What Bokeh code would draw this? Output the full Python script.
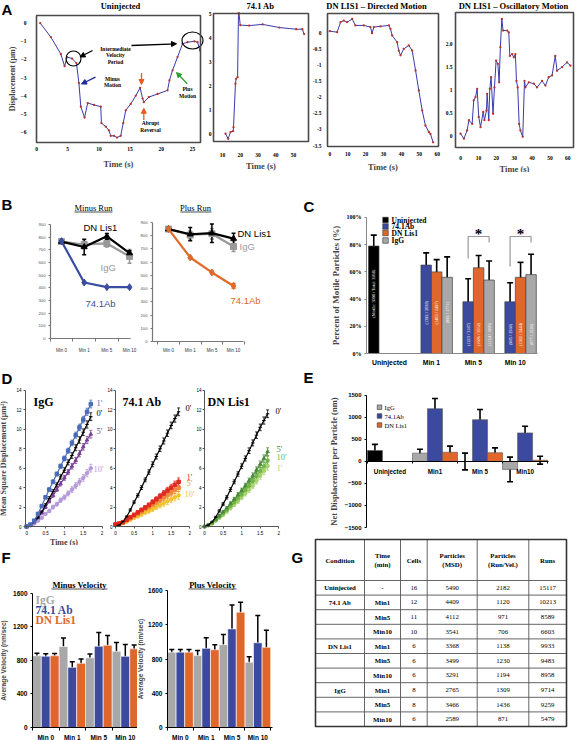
import math
from bokeh.plotting import figure
from bokeh.models import (Range1d, Label, Whisker, TeeHead, ColumnDataSource, Arrow,
                          NormalHead, FixedTicker, BoxAnnotation)
from bokeh.layouts import row, column
from bokeh.embed import file_html
from bokeh.resources import INLINE
from bokeh.core.properties import value

# ======================= DATA =======================
# A: displacement traces (time s, displacement um)
a1_time = [0.6, 2.3, 3.9, 4.5, 4.9, 5.7, 6.4, 6.8, 7.1, 7.7, 8.2, 9.2, 10.3, 10.4, 11.1, 11.6, 11.9, 12.4, 12.9,
           13.5, 13.9, 14.3, 15.1, 15.9, 16.6, 17.0, 17.2, 18.0, 19.4, 21.0, 21.3, 21.8, 22.6, 23.4, 24.2, 25.3,
           25.8, 26.2]
a1_disp = [0.0, -0.77, -1.7, -2.37, -1.87, -1.95, -2.2, -3.3, -4.6, -5.2, -4.4, -4.5, -4.6, -5.5, -5.7, -5.9, -6.2,
           -6.2, -6.3, -6.2, -5.5, -4.8, -4.45, -4.0, -3.56, -4.15, -4.35, -4.07, -3.9, -3.7, -3.15, -2.6, -1.87,
           -1.14, -1.05, -1.0, -1.05, -1.5]
a2_time = [11.7, 13.2, 14.5, 16.0, 16.2, 17.3, 17.7, 18.5, 19.0, 19.3, 20.0, 25.0, 32.6, 42.0, 51.5, 55.0, 56.0]
a2_disp = [0.03, -0.18, 0.1, 0.14, 0.3, 2.1, 2.3, 2.37, 5.0, 5.0, 4.52, 4.5, 4.55, 4.42, 4.35, 4.35, 4.15]
a3_time = [0, 4.1, 6, 7.8, 9.7, 12.5, 14.3, 19, 22.7, 23.6, 24.6, 28.3, 33, 33.9, 34.8, 37.6, 38.5, 39.5, 41.3,
           44.1, 46, 47.9, 49.7, 51.6, 53.4, 55.3, 56.2, 57.7]
a3_disp = [0.05, 0.02, 0.33, 0.38, 0.33, 0.43, 0.23, 0.23, 0.18, -0.01, 0.18, 0.2, 0.23, 0.12, -0.08, -0.29, -0.55,
           -0.7, -0.5, -0.39, -0.55, -1.17, -1.79, -2.41, -2.88, -3.08, -3.14, -3.4]
a4_time = [0, 1.9, 3.7, 4.7, 6.5, 7.4, 8.4, 9.3, 10.2, 11.2, 12.7, 13.4, 14.5, 14.9, 15.8, 16.4, 17.1, 18.2, 19,
           19.9, 20.9, 21.6, 22.3, 23.1, 23.8, 26.1, 27, 27.6, 28.9, 29.8, 30.7, 31.3, 32, 32.8, 33.5, 34.8, 35.8,
           36.3, 38.2, 41, 42.8, 45.6, 47.5, 49.3, 51.2, 53, 54, 56.8, 59.6, 61.5]
a4_disp = [0.06, -0.05, 0.13, 0.35, 0.27, 0.78, 0.85, 1.03, 0.42, 0.2, 0.53, 0.35, 0.56, 0.92, 0.35, 1.03, 1.28,
           0.49, 1.06, 1.64, 1.57, 1.17, 1.93, 2.54, 2.29, 2.29, 2.25, 1.74, 1.78, 1.71, 1.78, 1.2, 1.06, 0.27, 0.13,
           -0.01, 1.2, 1.06, 1.17, 1.14, 1.06, 1.2, 1.1, 1.28, 1.32, 1.74, 1.42, 1.5, 1.6, 1.53]
a3_yticks = [0, -0.5, -1, -1.5, -2, -2.5, -3, -3.5]
a3_ylabels = ["0", "-0.5", "-1", "-1.5", "-2", "-2.5", "-3", "-3.5"]
a4_yticks = [0, 0.5, 1, 1.5, 2]
a4_ylabels = ["0", "0.5", "1", "1.5", "2.0"]

# B: run lengths (nm)
stages = ["Min 0", "Min 1", "Min 5", "Min 10"]
bm_ab = [768, 442, 405, 405]
bm_ab_err = [8, 8, 6, 6]
bm_dn = [765, 722, 806, 674]
bm_dn_err = [10, 62, 22, 18]
bm_igg = [765, 742, 750, 648]
bm_igg_err = [12, 25, 28, 55]
bp_ab = [850, 635, 522, 420]
bp_ab_err = [8, 8, 10, 18]
bp_dn = [850, 811, 819, 778]
bp_dn_err = [10, 50, 70, 40]
bp_igg = [850, 805, 815, 718]
bp_igg_err = [12, 30, 40, 38]

# C: percent motile particles
c_groups = ["Uninjected", "Min 1", "Min 5", "Min 10"]
c_uninj = [79]
c_uninj_err = [8]
c_ab = [65, 38, 38]
c_ab_err = [9, 17, 14]
c_dn = [60, 63, 56]
c_dn_err = [9, 9, 11]
c_igg = [56, 54, 58]
c_igg_err = [15, 14, 15]
c_uninj_txt = ["(Motile: 3098 / Total: 3938)"]
c_ab_txt = ["(1392 / 2038)", "(1223 / 3187)", "(985 / 2568)"]
c_dn_txt = ["(1483 / 2497)", "(1606 / 2552)", "(1382 / 2444)"]
c_igg_txt = ["(992 / 1771)", "(1124 / 1993)", "(877 / 1528)"]
c_legend = ["Uninjected", "74.1Ab", "DN Lis1", "IgG"]

# D: mean square displacement (um^2) vs time (s)
msd_time = [0, 0.1, 0.2, 0.3, 0.4, 0.5, 0.6, 0.7, 0.8, 0.9, 1.0, 1.1, 1.2, 1.3, 1.4, 1.5, 1.6, 1.7]
msd_err = [0, 0.05, 0.07, 0.1, 0.12, 0.15, 0.17, 0.19, 0.2, 0.23, 0.25, 0.26, 0.29, 0.31, 0.33, 0.34, 0.37, 0.4]
igg_1 = [0, 0.2, 0.6, 1.3, 2.1, 3.0, 3.8, 4.6, 5.4, 6.2, 7.0, 7.8, 8.6, 9.4, 10.2, 11.0, 11.8, 12.6]
igg_0 = [0, 0.15, 0.45, 0.9, 1.5, 2.2, 2.9, 3.6, 4.3, 5.1, 5.8, 6.6, 7.3, 8.1, 8.9, 9.7, 10.5, 11.3]
igg_5 = [0, 0.15, 0.45, 0.9, 1.4, 2.0, 2.6, 3.2, 3.8, 4.4, 5.0, 5.6, 6.2, 6.8, 7.5, 8.2, 8.9, 9.5]
igg_10 = [0, 0.1, 0.3, 0.6, 0.9, 1.3, 1.6, 2.0, 2.3, 2.7, 3.0, 3.4, 3.8, 4.2, 4.6, 5.0, 5.5, 6.0]
ab_0 = [0, 0.15, 0.5, 1.0, 1.7, 2.5, 3.2, 4.0, 4.8, 5.6, 6.4, 7.2, 8.0, 8.8, 9.6, 10.4, 11.1, 11.8]
ab_1 = [0.2, 0.3, 0.45, 0.7, 0.95, 1.2, 1.45, 1.7, 1.95, 2.2, 2.5, 2.8, 3.1, 3.4, 3.7, 4.0, 4.3, 4.6]
ab_5 = [0.2, 0.3, 0.4, 0.65, 0.85, 1.1, 1.3, 1.55, 1.8, 2.0, 2.25, 2.5, 2.75, 3.0, 3.25, 3.5, 3.75, 4.0]
ab_10 = [0.2, 0.25, 0.35, 0.5, 0.7, 0.9, 1.05, 1.25, 1.45, 1.6, 1.8, 2.0, 2.2, 2.4, 2.6, 2.8, 3.0, 3.2]
dn_0 = [0, 0.15, 0.45, 0.95, 1.6, 2.3, 3.0, 3.8, 4.6, 5.4, 6.2, 7.0, 7.8, 8.6, 9.4, 10.2, 10.9, 11.6]
dn_5 = [0, 0.15, 0.4, 0.75, 1.1, 1.5, 1.9, 2.35, 2.8, 3.25, 3.7, 4.2, 4.7, 5.2, 5.8, 6.4, 7.0, 7.7]
dn_10 = [0, 0.15, 0.35, 0.65, 1.0, 1.35, 1.7, 2.1, 2.5, 2.9, 3.3, 3.75, 4.2, 4.7, 5.2, 5.7, 6.2, 6.8]
dn_1 = [0, 0.12, 0.3, 0.6, 0.9, 1.2, 1.55, 1.9, 2.25, 2.6, 3.0, 3.4, 3.8, 4.2, 4.7, 5.2, 5.7, 6.2]

# E: net displacement per particle (nm)
e_groups = ["Uninjected", "Min1", "Min 5", "Min10"]
e_uninj = [250]
e_uninj_err = [140]
e_igg = [190, 0, -180]
e_igg_err = [90, 190, 280]
e_ab = [1200, 950, 650]
e_ab_err = [230, 230, 150]
e_dn = [210, 200, 30]
e_dn_err = [140, 110, 90]
e_legend = ["IgG", "74.1Ab", "DN Lis1"]

# F: average velocity (nm/sec)
fm_igg = [855, 965, 830, 907]
fm_igg_err = [30, 100, 45, 105]
fm_ab = [850, 717, 968, 848]
fm_ab_err = [30, 65, 165, 140]
fm_dn = [855, 765, 980, 937]
fm_dn_err = [28, 50, 115, 45]
fp_igg = [880, 840, 968, 763]
fp_igg_err = [30, 60, 118, 65]
fp_ab = [880, 925, 1152, 990]
fp_ab_err = [30, 125, 280, 320]
fp_dn = [880, 908, 1347, 937]
fp_dn_err = [30, 60, 115, 200]
f_legend = ["IgG", "74.1 Ab", "DN Lis1"]

# G: table
g_header = ["Condition", "Time\n(min)", "Cells", "Particles\n(MSD)", "Particles\n(Run/Vel.)", "Runs"]
g_condition = ["Uninjected", "74.1 Ab", "", "", "DN Lis1", "", "", "IgG", "", ""]
g_time = ["-", "Min1", "Min5", "Min10", "Min1", "Min5", "Min10", "Min1", "Min5", "Min10"]
g_cells = ["16", "12", "11", "10", "6", "6", "6", "8", "8", "6"]
g_msd = ["5490", "4409", "4112", "3541", "3368", "3499", "3291", "2765", "3466", "2589"]
g_runvel = ["2182", "1120", "971", "706", "1138", "1230", "1194", "1309", "1436", "871"]
g_runs = ["15117", "10213", "8589", "6603", "9933", "9483", "8958", "9714", "9259", "5479"]

# ======================= STYLE / LAYOUT HELPERS =======================
SERIF = "Liberation Serif"
SANS = "Liberation Sans"
C_BLUE = "#3b4a9e"
C_ORANGE = "#e0672b"
C_GRAY = "#a8a8a8"

FR = {}

def mkfig(box, rect, xr, yr, axes=True):
    """box: figure area (page px); rect: where the nominal ranges xr/yr sit (page px)."""
    bx0, by0, bx1, by1 = box
    fx0, fy0, fx1, fy1 = rect
    kx = (xr[1] - xr[0]) / (fx1 - fx0)
    ky = (yr[1] - yr[0]) / (fy1 - fy0)
    fxr = (xr[0] - (fx0 - bx0) * kx, xr[1] + (bx1 - fx1) * kx)
    fyr = (yr[0] - (by1 - fy1) * ky, yr[1] + (fy0 - by0) * ky)
    kw = {} if axes else dict(x_axis_type=None, y_axis_type=None)
    p = figure(width=bx1 - bx0, height=by1 - by0, x_range=Range1d(*fxr), y_range=Range1d(*fyr),
               min_border=0, min_border_left=0, min_border_right=0, min_border_top=0, min_border_bottom=0,
               output_backend="svg", toolbar_location=None, **kw)
    p.grid.visible = False
    p.outline_line_color = None
    p.background_fill_color = "white"
    p.border_fill_color = "white"
    FR[id(p)] = (box, rect, xr, yr)
    if axes:
        p.axis.minor_tick_line_color = None
        p.xaxis.fixed_location = yr[0]
        p.yaxis.fixed_location = xr[0]
        p.xaxis.bounds = (xr[0], xr[1])
        p.yaxis.bounds = (yr[0], yr[1])
    return p

def dx(p, rx):
    box, rect, xr, yr = FR[id(p)]
    return xr[0] + (rx - rect[0]) / (rect[2] - rect[0]) * (xr[1] - xr[0])

def dy(p, ry):
    box, rect, xr, yr = FR[id(p)]
    return yr[0] + (rect[3] - ry) / (rect[3] - rect[1]) * (yr[1] - yr[0])

def lab(p, rx, ry, text, size, font=SERIF, style="bold", color="black", align="center",
        baseline="middle", angle=0):
    box = FR[id(p)][0]
    p.add_layout(Label(x=rx - box[0], y=box[3] - ry, x_units="screen", y_units="screen",
                       text=text, text_font=font, text_font_style=style, text_font_size=size,
                       text_color=color, text_align=align, text_baseline=baseline, angle=angle,
                       text_line_height=1.15))

def whisk(p, xs, vals, errs, color="black", width=1.5, head=6):
    src = ColumnDataSource(dict(x=xs, u=[v + e for v, e in zip(vals, errs)], l=[v - e for v, e in zip(vals, errs)]))
    p.add_layout(Whisker(source=src, base="x", upper="u", lower="l", line_color=color, line_width=width,
                         upper_head=TeeHead(size=head, line_color=color, line_width=width),
                         lower_head=TeeHead(size=head, line_color=color, line_width=width)))

def tick_style(ax, font, size, style="normal", color="black"):
    ax.major_label_text_font = font
    ax.major_label_text_font_size = size
    ax.major_label_text_font_style = style
    ax.major_label_text_color = color

def axis_title(ax, text, font, size, standoff, style="bold"):
    ax.axis_label = text
    ax.axis_label_text_font = font
    ax.axis_label_text_font_style = style
    ax.axis_label_text_font_size = size
    ax.axis_label_standoff = standoff

def no_major_ticks(ax):
    ax.major_tick_line_color = None
    ax.major_tick_out = 0
    ax.major_tick_in = 0

# ======================= PANEL A =======================
def a_panel(box, rect, xr, yr, t, d, xt, yt, ylabels, title, tcx, xstand, xlstand, ystand, ylabel=None):
    p = mkfig(box, rect, xr, yr)
    p.add_layout(BoxAnnotation(left=xr[0], right=xr[1], bottom=yr[0], top=yr[1], fill_alpha=0,
                               line_color="#4a4a4a", line_width=1.6, line_alpha=1))
    p.xaxis.ticker = FixedTicker(ticks=xt)
    p.yaxis.ticker = FixedTicker(ticks=yt)
    if ylabels:
        p.yaxis.major_label_overrides = dict(zip(yt, ylabels))
    p.axis.axis_line_color = None
    no_major_ticks(p.xaxis)
    no_major_ticks(p.yaxis)
    tick_style(p.xaxis, SERIF, "5.5px", "bold")
    tick_style(p.yaxis, SERIF, "5.5px", "bold")
    p.xaxis.major_label_standoff = xstand
    p.yaxis.major_label_standoff = ystand
    axis_title(p.xaxis, "Time (s)", SERIF, "8.5px", xlstand)
    if ylabel:
        axis_title(p.yaxis, ylabel, SERIF, "8px", 1)
    p.line(t, d, line_color="#3a3aae", line_width=1.0)
    p.scatter(t, d, size=2.3, color="#b8322a", line_width=0)
    lab(p, tcx, 5, title, "8.5px")
    return p

A1 = a_panel((0, 0, 206, 172), (36, 15, 200, 142), (0, 26.28), (-6.57, 0.42), a1_time, a1_disp,
             [0, 5, 10, 15, 20, 25], [0, -1, -2, -3, -4, -5, -6], None, "Uninjected", 120, 4, 5, 10,
             "Displacement (\u03bcm)")
A2 = a_panel((206, 0, 310, 172), (213, 13, 308, 141), (4.93, 58.45), (-0.29, 5.0), a2_time, a2_disp,
             [10, 20, 30, 40, 50], [0, 1, 2, 3, 4, 5], None, "74.1 Ab", 260, 11, 1, 2)
A3 = a_panel((310, 0, 442, 172), (327, 13, 438, 146), (-1.28, 60.7), (-3.53, 0.6), a3_time, a3_disp,
             [0, 10, 20, 30, 40, 50, 60], a3_yticks, a3_ylabels, "DN LIS1 \u2013 Directed Motion", 376, 5, 3, 6)
A4 = a_panel((442, 0, 576, 172), (455, 12, 573, 147), (-2.8, 63.2), (-0.24, 2.68), a4_time, a4_disp,
             [0, 10, 20, 30, 40, 50, 60], a4_yticks, a4_ylabels, "DN LIS1 \u2013 Oscillatory Motion", 513, 8, 1, 3)
lab(A1, 1, 9, "A", "15px", font=SANS, align="left")

# annotations on the uninjected trace
A1.scatter([dx(A1, 73)], [dy(A1, 58)], size=15, marker="circle", fill_color=None, line_color="black", line_width=1.1)
A1.ellipse(x=[dx(A1, 192)], y=[dy(A1, 40)], width=21, height=17, width_units="screen", height_units="screen",
           fill_color=None, line_color="black", line_width=1.1)
arrows = [((92, 50), (79.5, 56.5), "black"), ((131, 45), (176, 43.3), "black"), ((95, 76.7), (81, 83.5), "#1f2a9e"),
          ((141, 72.5), (141, 84), "#ee5a1e"), ((143.3, 119.5), (143.3, 107.8), "#ee5a1e"),
          ((186.7, 83.3), (176, 72), "#2ea02e")]
for (sx0, sy0), (sx1, sy1), col in arrows:
    A1.add_layout(Arrow(end=NormalHead(size=5, fill_color=col, line_color=col), x_start=dx(A1, sx0),
                        y_start=dy(A1, sy0), x_end=dx(A1, sx1), y_end=dy(A1, sy1), line_color=col, line_width=1.3))
lab(A1, 115, 55, "Intermediate\nVelocity\nPeriod", "5.5px")
lab(A1, 112, 81.5, "Minus\nMotion", "5.5px")
lab(A1, 150, 126, "Abrupt\nReversal", "5.5px")
lab(A1, 187, 92, "Plus\nMotion", "5.5px")

# ======================= PANEL B =======================
b_x = [0.5, 1.5, 2.5, 3.5]

def b_panel(box, rect, xr, yr, xbound, series, title, tcx, ul, xstand):
    p = mkfig(box, rect, xr, yr)
    p.xaxis.ticker = FixedTicker(ticks=b_x, minor_ticks=[0, 1, 2, 3, 4])
    p.xaxis.major_label_overrides = dict(zip(b_x, stages))
    p.xaxis.bounds = xbound
    p.yaxis.ticker = FixedTicker(ticks=list(range(0, 1000, 100)))
    p.yaxis.bounds = (0, 900)
    p.axis.axis_line_color = "#777"
    p.axis.axis_line_width = 1.2
    p.yaxis.major_tick_line_color = "#777"
    p.yaxis.major_tick_out = 2
    p.yaxis.major_tick_in = 0
    no_major_ticks(p.xaxis)
    p.xaxis.minor_tick_line_color = "#777"
    p.xaxis.minor_tick_out = 3
    p.xaxis.minor_tick_in = 0
    tick_style(p.xaxis, SANS, "4.5px", color="#333")
    tick_style(p.yaxis, SANS, "4.2px", color="#555")
    p.xaxis.major_label_standoff = xstand
    p.yaxis.major_label_standoff = 3
    for vals, errs, col, mk, sz in series:
        p.line(b_x, vals, line_color=col, line_width=2.2)
        whisk(p, b_x, vals, errs, color=col, width=1.5, head=4)
        p.scatter(b_x, vals, marker=mk, size=sz, color=col)
    lab(p, tcx, 207, title, "8.5px", style="normal")
    p.segment(x0=[dx(p, ul[0])], y0=[dy(p, 211.5)], x1=[dx(p, ul[1])], y1=[dy(p, 211.5)], line_color="black",
              line_width=0.7)
    return p

B1 = b_panel((0, 172, 138, 368), (50, 200, 132, 338), (0.015, 3.63), (0, 1089), (0.015, 3.55),
             [(bm_igg, bm_igg_err, "#999999", "square", 6), (bm_dn, bm_dn_err, "black", "triangle", 6),
              (bm_ab, bm_ab_err, "#3b4da0", "diamond", 7)], "Minus Run", 93, (74, 112), 6)
B2 = b_panel((138, 172, 290, 368), (152, 200, 245, 341), (-0.24, 4.05), (0, 1066), (-0.24, 3.95),
             [(bp_igg, bp_igg_err, "#999999", "square", 6), (bp_dn, bp_dn_err, "black", "triangle", 6),
              (bp_ab, bp_ab_err, "#e06a2a", "diamond", 7)], "Plus Run", 195, (180, 211), 3)
lab(B1, 1, 204, "B", "15px", font=SANS, align="left")
lab(B1, 83, 227, "DN Lis1", "9.5px", font=SANS, style="normal", align="left")
lab(B1, 100, 267, "IgG", "9.5px", font=SANS, style="normal", color="#9a9a9a", align="left")
lab(B1, 85, 303, "74.1Ab", "9.5px", font=SANS, style="normal", color="#3b4da0", align="left")
lab(B2, 237, 233, "DN Lis1", "9.5px", font=SANS, style="normal", align="left")
lab(B2, 239, 246, "IgG", "9.5px", font=SANS, style="normal", color="#9a9a9a", align="left")
lab(B2, 230, 300, "74.1Ab", "9.5px", font=SANS, style="normal", color="#e06a2a", align="left")

# ======================= PANEL C =======================
C = mkfig((290, 172, 576, 368), (366, 205, 540, 353), (-0.548, 3.6), (0, 108.8))
c_x = [0, 1, 2, 3]
C.xaxis.ticker = FixedTicker(ticks=c_x)
C.xaxis.major_label_overrides = dict(zip(c_x, c_groups))
C.xaxis.bounds = (-0.548, 3.52)
C.yaxis.ticker = FixedTicker(ticks=[0, 20, 40, 60, 80, 100])
C.yaxis.major_label_overrides = {v: "%d%%" % v for v in [0, 20, 40, 60, 80, 100]}
C.yaxis.bounds = (0, 100)
C.axis.axis_line_color = "#888"
no_major_ticks(C.xaxis)
C.yaxis.major_tick_line_color = "#888"
C.yaxis.major_tick_out = 2
C.yaxis.major_tick_in = 0
tick_style(C.xaxis, SANS, "6.8px", "bold")
tick_style(C.yaxis, SERIF, "6px", "bold")
C.xaxis.major_label_standoff = 5
C.yaxis.major_label_standoff = 3
axis_title(C.yaxis, "Percent of Motile Particles (%)", SERIF, "9px", 3)
gx = [1, 2, 3]
c_series = [([-0.375], c_uninj, c_uninj_err, "black", c_uninj_txt),
            ([g - 0.125 for g in gx], c_ab, c_ab_err, C_BLUE, c_ab_txt),
            ([g + 0.125 for g in gx], c_dn, c_dn_err, C_ORANGE, c_dn_txt),
            ([g + 0.375 for g in gx], c_igg, c_igg_err, C_GRAY, c_igg_txt)]
c_txt_y = [[44], [30, 14, 14], [30, 14, 14], [30, 14, 14]]
for (xs, vals, errs, col, txt), ty in zip(c_series, c_txt_y):
    C.vbar(x=xs, top=vals, width=0.25, fill_color=col, line_color="#444", line_width=0.7)
    whisk(C, xs, vals, errs, color="black", width=1.6, head=6)
    C.text(x=xs, y=ty, text=txt, angle=math.pi / 2, text_align="center", text_baseline="middle",
           text_color="white", text_font_size="4.3px", text_font=value(SERIF))
c_leg_y = [219.5, 226, 232.5, 240]
C.scatter([dx(C, 385)] * 4, [dy(C, v) for v in c_leg_y], marker="square", size=5.5,
          fill_color=["black", C_BLUE, C_ORANGE, C_GRAY], line_color="#333", line_width=0.6)
for name, yy in zip(c_legend, c_leg_y):
    lab(C, 391, yy, name, "7.5px", align="left")
for g in [2, 3]:
    C.line([g - 0.125, g - 0.125, g + 0.375, g + 0.375],
           [dy(C, 258 if g == 2 else 266), dy(C, 236), dy(C, 236), dy(C, 242)], line_color="#999", line_width=1.2)
lab(C, 478, 233, "*", "15px")
lab(C, 520, 233, "*", "15px")
lab(C, 303, 206, "C", "15px", font=SANS, align="left")

# ======================= PANEL D =======================
def d_panel(box, rect, xr, curves, title, tx, ends, ystand, ylabel=False, xlabel=False):
    p = mkfig(box, rect, xr, (0, 14.2))
    p.xaxis.ticker = FixedTicker(ticks=[0, 0.5, 1, 1.5, 2])
    p.xaxis.bounds = (xr[0], 2.0)
    p.yaxis.ticker = FixedTicker(ticks=[0, 2, 4, 6, 8, 10, 12, 14])
    p.yaxis.bounds = (0, 14)
    p.axis.axis_line_color = "#555"
    p.axis.major_tick_line_color = "#555"
    p.axis.major_tick_out = 2
    p.axis.major_tick_in = 0
    tick_style(p.xaxis, SANS, "4.5px")
    tick_style(p.yaxis, SANS, "4.5px")
    p.xaxis.major_label_standoff = 2
    p.yaxis.major_label_standoff = ystand
    if ylabel:
        axis_title(p.yaxis, "Mean Square Displacement (\u03bcm\u00b2)", SERIF, "8px", 5)
    if xlabel:
        axis_title(p.xaxis, "Time (s)", SERIF, "8px", 0)
    for vals, col, mk in curves:
        p.line(msd_time, vals, line_color=col, line_width=1.2)
        whisk(p, msd_time, vals, msd_err, color=col, width=0.8, head=3)
        p.scatter(msd_time, vals, marker=mk, size=3.5, color=col)
    lab(p, tx, 401.7, title, "12px", align="left")
    for (rx, ry, txt, col) in ends:
        lab(p, rx, ry, txt, "8.5px", style="normal", color=col, align="left")
    return p

D1 = d_panel((0, 368, 105, 545), (25, 388, 102, 526), (-0.03, 2.01),
             [(igg_10, "#b59ad8", "circle"), (igg_5, "#7b3f98", "triangle"), (igg_0, "black", "dash"),
              (igg_1, "#4a6cb8", "square")], "IgG", 33,
             [(96, 402.7, "1'", "#4a6cb8"), (96, 412.7, "0'", "black"), (96, 430, "5'", "#7b3f98"),
              (93, 468.3, "10'", "#b59ad8")], 2, ylabel=True, xlabel=True)
D2 = d_panel((105, 368, 195, 545), (115, 388, 190, 526), (0, 2.02),
             [(ab_10, "#f2c22e", "circle"), (ab_5, "#f08838", "square"), (ab_1, "#e02a20", "square"),
              (ab_0, "black", "dash")], "74.1 Ab", 122,
             [(185, 407.7, "0'", "black"), (186, 476.7, "1'", "#e02a20"), (186, 482.7, "5'", "#f08838"),
              (184, 493.3, "10'", "#f2c22e")], 1)
D3 = d_panel((195, 368, 290, 545), (204, 388, 279, 526), (0, 2.02),
             [(dn_1, "#a9d36f", "circle"), (dn_10, "#72b446", "circle"), (dn_5, "#4b8a3a", "triangle"),
              (dn_0, "black", "dash")], "DN Lis1", 207,
             [(275, 410.7, "0'", "black"), (276, 448.3, "5'", "#4b8a3a"), (276, 456.7, "10'", "#72b446"),
              (276, 467.7, "1'", "#a9d36f")], 1)
lab(D1, 1, 378, "D", "15px", font=SANS, align="left")

# ======================= PANEL E =======================
E = mkfig((290, 368, 576, 535), (366, 392, 548, 527), (-0.52, 3.52), (-1500, 1568))
e_x = [0, 1, 2, 3]
E.xaxis.fixed_location = 0
E.xaxis.ticker = FixedTicker(ticks=e_x, minor_ticks=[-0.5, 0.5, 1.5, 2.5, 3.5])
E.xaxis.major_label_overrides = dict(zip(e_x, e_groups))
E.yaxis.ticker = FixedTicker(ticks=[-1500, -1000, -500, 0, 500, 1000, 1500])
E.yaxis.bounds = (-1500, 1500)
E.axis.axis_line_color = "black"
no_major_ticks(E.xaxis)
E.yaxis.major_tick_line_color = "black"
E.yaxis.major_tick_out = 2
E.yaxis.major_tick_in = 0
E.xaxis.minor_tick_line_color = "black"
E.xaxis.minor_tick_out = 2
E.xaxis.minor_tick_in = 0
tick_style(E.xaxis, SANS, "6.3px", "bold")
tick_style(E.yaxis, SANS, "6px", "bold")
E.xaxis.major_label_standoff = 5
E.yaxis.major_label_standoff = 3
axis_title(E.yaxis, "Net Displacement per Particle (nm)", SERIF, "8.5px", 3)
third = 1 / 3
e_series = [([-third], e_uninj, e_uninj_err, "black"),
            ([g - third for g in gx], e_igg, e_igg_err, C_GRAY),
            ([g for g in gx], e_ab, e_ab_err, C_BLUE),
            ([g + third for g in gx], e_dn, e_dn_err, C_ORANGE)]
for xs, vals, errs, col in e_series:
    E.vbar(x=xs, top=vals, bottom=0, width=third, fill_color=col, line_color="#555", line_width=0.6)
    whisk(E, xs, vals, errs, color="black", width=1.6, head=6)
e_leg_y = [406.7, 415.5, 424.5]
E.scatter([dx(E, 379)] * 3, [dy(E, v) for v in e_leg_y], marker="square", size=4.5,
          fill_color=[C_GRAY, C_BLUE, C_ORANGE], line_color="#333", line_width=0.6)
for name, yy in zip(e_legend, e_leg_y):
    lab(E, 384, yy, name, "6.5px", style="normal", align="left")
lab(E, 303, 377, "E", "15px", font=SANS, align="left")

# ======================= PANEL F =======================
def f_panel(box, rect, xr, yr, series, title, tcx, ul, ylabel_text, ystand):
    p = mkfig(box, rect, xr, yr)
    p.xaxis.ticker = FixedTicker(ticks=e_x, minor_ticks=[-0.5, 0.5, 1.5, 2.5, 3.5])
    p.xaxis.major_label_overrides = dict(zip(e_x, stages))
    p.yaxis.ticker = FixedTicker(ticks=[0, 400, 800, 1200, 1600])
    p.yaxis.bounds = (0, 1600)
    p.axis.axis_line_color = "black"
    no_major_ticks(p.xaxis)
    p.yaxis.major_tick_line_color = "black"
    p.yaxis.major_tick_out = 2
    p.yaxis.major_tick_in = 0
    p.xaxis.minor_tick_line_color = "black"
    p.xaxis.minor_tick_out = 3
    p.xaxis.minor_tick_in = 0
    tick_style(p.xaxis, SANS, "6.5px", "bold")
    tick_style(p.yaxis, SANS, "6.5px", "bold")
    p.xaxis.major_label_standoff = 3
    p.yaxis.major_label_standoff = 3
    axis_title(p.yaxis, ylabel_text, SANS, "6.5px", ystand)
    for off, (vals, errs, col) in zip([-third, 0, third], series):
        xs = [g + off for g in e_x]
        p.vbar(x=xs, top=vals, width=third, fill_color=col, line_color="white", line_width=0.6)
        whisk(p, xs, vals, errs, color="black", width=1.5, head=5)
    lab(p, tcx, 584, title, "8.5px")
    p.segment(x0=[dx(p, ul[0])], y0=[dy(p, 588.5)], x1=[dx(p, ul[1])], y1=[dy(p, 588.5)], line_color="black",
              line_width=0.7)
    return p

F1 = f_panel((0, 545, 137, 740), (32, 575, 137, 727), (-0.5, 3.46), (0, 1811),
             [(fm_igg, fm_igg_err, C_GRAY), (fm_ab, fm_ab_err, C_BLUE), (fm_dn, fm_dn_err, C_ORANGE)],
             "Minus Velocity", 79, (51, 107), "Average Velocity (nm/sec)", 3)
F2 = f_panel((137, 545, 290, 740), (167, 575, 272, 727), (-0.5, 3.57), (0, 1776),
             [(fp_igg, fp_igg_err, C_GRAY), (fp_ab, fp_ab_err, C_BLUE), (fp_dn, fp_dn_err, C_ORANGE)],
             "Plus Velocity", 212, (188, 236), "Average Velocity (nm/sec)", 1)
for name, yy, col in zip(f_legend, [599, 609, 619], ["#a8a8a8", C_BLUE, C_ORANGE]):
    lab(F1, 35, yy, name, "11.5px", color=col, align="left")
lab(F1, 1, 557, "F", "15px", font=SANS, align="left")

# ======================= PANEL G (table) =======================
G = mkfig((290, 535, 576, 740), (290, 535, 576, 740), (290, 576), (740, 535), axes=False)
tbl_left = 315
tbl_top = 539
tbl_col_w = [49, 36, 26.7, 50, 51.6, 37.7]
tbl_head_h = 41
tbl_row_h = 14.6
col_edges = [tbl_left]
for w in tbl_col_w:
    col_edges.append(col_edges[-1] + w)
row_edges = [tbl_top, tbl_top + tbl_head_h]
for _ in g_time:
    row_edges.append(row_edges[-1] + tbl_row_h)
G.segment(x0=col_edges, y0=[row_edges[0]] * len(col_edges), x1=col_edges, y1=[row_edges[-1]] * len(col_edges),
          line_color="#555", line_width=0.9)
G.segment(x0=[col_edges[0]] * len(row_edges), y0=row_edges, x1=[col_edges[-1]] * len(row_edges), y1=row_edges,
          line_color="#555", line_width=0.9)
G.quad(left=[col_edges[0]], right=[col_edges[-1]], top=[row_edges[0]], bottom=[row_edges[-1]],
       fill_color=None, line_color="#333", line_width=1.6)
cx = [(a + b) / 2 for a, b in zip(col_edges[:-1], col_edges[1:])]
ry_c = [(a + b) / 2 for a, b in zip(row_edges[1:-1], row_edges[2:])]
G.text(x=cx, y=[(row_edges[0] + row_edges[1]) / 2] * 6, text=g_header, text_align="center",
       text_baseline="middle", text_font=value(SERIF), text_font_style="bold", text_font_size="6.8px",
       text_line_height=1.2)
cols = [g_condition, g_time, g_cells, g_msd, g_runvel, g_runs]
for i, vals in enumerate(cols):
    G.text(x=[cx[i]] * len(vals), y=ry_c, text=vals, text_align="center", text_baseline="middle",
           text_font=value(SERIF), text_font_style="bold" if i < 2 else "normal", text_font_size="6.8px")
lab(G, 291, 557, "G", "15px", font=SANS, align="left")

# ======================= ASSEMBLE =======================
top_row = row(A1, A2, A3, A4)
left_col = column(row(B1, B2), row(D1, D2, D3), row(F1, F2))
right_col = column(C, E, G)
layout = column(top_row, row(left_col, right_col))

open("out.html", "w").write(file_html(layout, INLINE))
